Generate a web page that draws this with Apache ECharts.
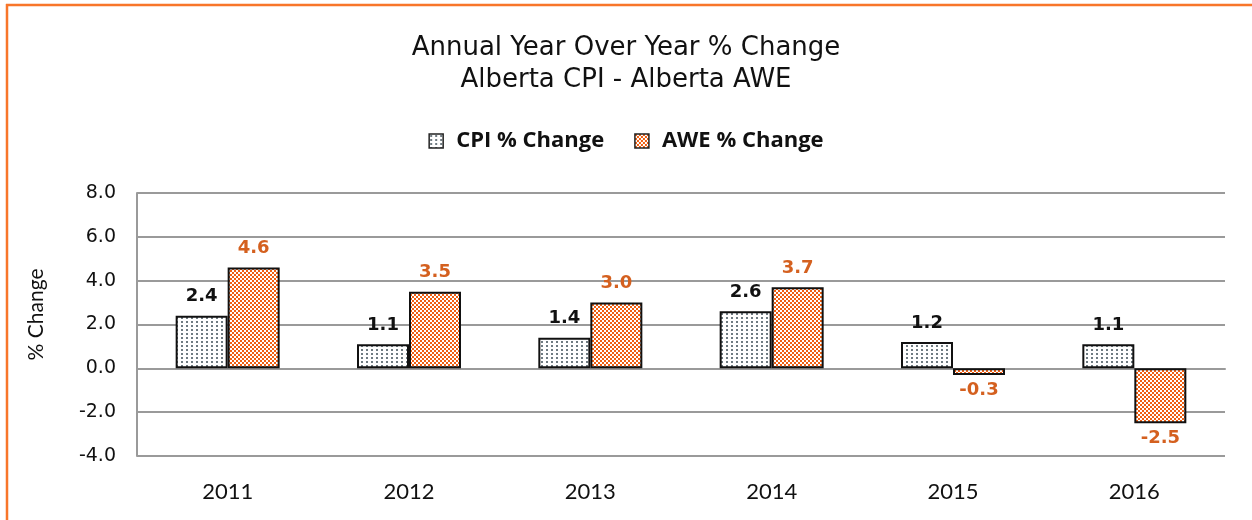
<!DOCTYPE html>
<html>
<head>
<meta charset="utf-8">
<script src="https://cdn.jsdelivr.net/npm/echarts@6/dist/echarts.min.js"></script>
<style>
  html, body { margin: 0; padding: 0; background: #fff; }
  #chart { width: 1252px; height: 520px; }
</style>
</head>
<body>
<div id="chart"></div>
<script>
// 数据
const years = ['2011', '2012', '2013', '2014', '2015', '2016']
const cpiChange = [2.4, 1.1, 1.4, 2.6, 1.2, 1.1]
const aweChange = [4.6, 3.5, 3.0, 3.7, -0.3, -2.5]
const yTicks = { min: -4, max: 8, interval: 2 }

// 点状填充
const makeDots = () => {
  const c = document.createElement('canvas')
  c.width = 5; c.height = 4
  const ctx = c.getContext('2d')
  ctx.fillStyle = '#fff'
  ctx.fillRect(0, 0, 5, 4)
  ctx.fillStyle = '#6f7b82'
  ctx.fillRect(1, 1, 2, 2)
  return c
}

// 棋盘填充
const makeChecker = () => {
  const c = document.createElement('canvas')
  c.width = 4; c.height = 4
  const ctx = c.getContext('2d')
  ctx.fillStyle = '#fff'
  ctx.fillRect(0, 0, 4, 4)
  ctx.fillStyle = '#f05f12'
  ctx.fillRect(0, 0, 2, 2)
  ctx.fillRect(2, 2, 2, 2)
  return c
}

const chart = echarts.init(document.getElementById('chart'))

const labelFont = '"DejaVu Sans", sans-serif'
const catFont = 'Lato, "Open Sans", sans-serif'

chart.setOption({
  animation: false,
  title: {
    text: 'Annual Year Over Year % Change\nAlberta CPI - Alberta AWE',
    left: 'center',
    top: 27,
    textStyle: {
      fontFamily: labelFont,
      fontWeight: 'normal',
      fontSize: 26,
      lineHeight: 32,
      color: '#111'
    }
  },
  legend: {
    top: 125,
    left: 'center',
    itemGap: 30,
    itemWidth: 14,
    itemHeight: 14,
    icon: 'rect',
    itemStyle: { borderColor: '#222', borderWidth: 1.5 },
    textStyle: {
      fontFamily: '"Open Sans", Lato, sans-serif',
      fontWeight: 'bold',
      fontSize: 22,
      color: '#111',
      padding: [0, 0, 0, 8]
    }
  },
  grid: { left: 137, right: 27, top: 193, bottom: 64 },
  xAxis: {
    type: 'category',
    data: years,
    axisTick: { show: false },
    axisLine: { lineStyle: { color: '#9a9a9a', width: 2 } },
    axisLabel: {
      fontFamily: catFont,
      fontSize: 22,
      color: '#111',
      margin: 25
    }
  },
  yAxis: {
    type: 'value',
    min: yTicks.min,
    max: yTicks.max,
    interval: yTicks.interval,
    name: '% Change',
    nameLocation: 'middle',
    nameGap: 90,
    nameRotate: 90,
    nameTextStyle: {
      fontFamily: catFont,
      fontSize: 21,
      color: '#111',
      padding: [0, 0, 0, 20]
    },
    axisLine: { show: true, lineStyle: { color: '#9a9a9a', width: 2 } },
    axisTick: { show: false },
    splitLine: { lineStyle: { color: '#9a9a9a', width: 2 } },
    axisLabel: {
      fontFamily: labelFont,
      fontSize: 19,
      color: '#111',
      margin: 21,
      formatter: v => v.toFixed(1)
    }
  },
  series: [
    {
      name: 'CPI % Change',
      type: 'bar',
      data: cpiChange,
      barWidth: 52,
      barGap: '0%',
      itemStyle: {
        color: { image: makeDots(), repeat: 'repeat' },
        borderColor: '#111',
        borderWidth: 2
      },
      label: {
        show: true,
        position: 'top',
        distance: 10,
        fontFamily: labelFont,
        fontWeight: 'bold',
        fontSize: 18,
        color: '#111',
        formatter: p => p.value.toFixed(1)
      }
    },
    {
      name: 'AWE % Change',
      type: 'bar',
      data: aweChange,
      barWidth: 52,
      itemStyle: {
        color: { image: makeChecker(), repeat: 'repeat' },
        borderColor: '#111',
        borderWidth: 2
      },
      label: {
        show: true,
        position: 'top',
        distance: 10,
        fontFamily: labelFont,
        fontWeight: 'bold',
        fontSize: 18,
        color: '#d4601f',
        formatter: p => p.value.toFixed(1)
      }
    }
  ],
  graphic: [
    { type: 'line', shape: { x1: 6, y1: 5, x2: 1252, y2: 5 }, style: { stroke: '#f8762a', lineWidth: 2.5 } },
    { type: 'line', shape: { x1: 7, y1: 4, x2: 7, y2: 520 }, style: { stroke: '#f8762a', lineWidth: 2.5 } }
  ]
})

// 负值标签放到柱子下方
chart.setOption({
  series: [{}, {
    data: aweChange.map(v => v < 0
      ? { value: v, label: { position: 'bottom', distance: 6 } }
      : v)
  }]
})
</script>
</body>
</html>
